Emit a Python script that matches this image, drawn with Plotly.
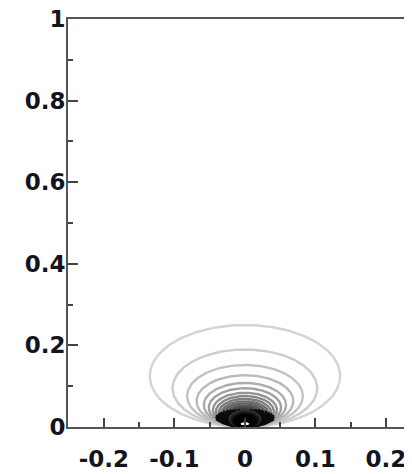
import numpy as np
import plotly.graph_objects as go

# Contour levels: top height of each closed contour (y units)
contour_tops = [0.25, 0.19, 0.152, 0.127, 0.108, 0.095, 0.084, 0.076, 0.069, 0.063,
                0.058, 0.053, 0.049, 0.046, 0.043, 0.040, 0.037, 0.035, 0.033, 0.031,
                0.029, 0.027, 0.025, 0.023, 0.021, 0.019, 0.017, 0.015]
# grey level (0=black, 255=white) for each contour
contour_greys = [212, 205, 195, 185, 172, 160, 148, 136, 124, 112,
                 100, 90, 80, 70, 60, 50, 40, 30, 20, 12,
                 6, 0, 0, 0, 0, 0, 0, 0]
width_ratio = 1.08        # half-width / radius of each contour
core_height_center = 0.042  # height of the dark core at x = 0
core_height_edge = 0.016    # height of the dark core at its edge
core_max_top = 0.1          # contours smaller than this join the dark core

x_tick_vals = [-0.2, -0.1, 0, 0.1, 0.2]
x_tick_labels = ["-0.2", "-0.1", "0", "0.1", "0.2"]
y_tick_vals = [0, 0.2, 0.4, 0.6, 0.8, 1]
y_tick_labels = ["0", "0.2", "0.4", "0.6", "0.8", "1"]

fig = go.Figure()
for top, g in zip(contour_tops, contour_greys):
    r = top / 2
    tc = 0.0
    if top <= core_max_top:
        f = np.clip((top - 0.055) / (core_max_top - 0.055), 0, 1)
        ch = core_height_center + f * (core_height_edge - core_height_center)
        if top > ch:
            tc = np.arccos(1 - ch / r)
    parts = [(np.linspace(tc, 2 * np.pi - tc, 200), g)]
    if tc > 0:
        parts.append((np.linspace(-tc, tc, 60), 10))
    for t, col in parts:
        xs = width_ratio * r * np.sin(t)
        ys = r - r * np.cos(t)
        fig.add_trace(go.Scatter(
            x=xs, y=ys, mode="lines",
            line=dict(color=f"rgb({col},{col},{col})", width=2.4),
            hoverinfo="skip", showlegend=False))

tickfont = dict(family="DejaVu Sans, sans-serif", size=23, color="#141420", weight="bold")
fig.update_layout(
    width=404, height=466,
    margin=dict(l=60, r=0, t=11, b=47),
    paper_bgcolor="white", plot_bgcolor="white",
    showlegend=False,
    xaxis=dict(range=[-0.251, 0.237], showgrid=False, zeroline=False, automargin=False,
               showline=True, linecolor="#555", linewidth=2, mirror=True,
               ticks="inside", ticklen=9, tickwidth=2, tickcolor="#444",
               tickvals=x_tick_vals, ticktext=x_tick_labels,
               tickfont=tickfont, ticklabelstandoff=10, ticklabeloverflow="allow",
               minor=dict(ticks="inside", ticklen=5, tickwidth=2, tickcolor="#444",
                          dtick=0.1, tick0=0.05, showgrid=False)),
    yaxis=dict(range=[0, 1], showgrid=False, zeroline=False, automargin=False,
               showline=True, linecolor="#555", linewidth=2, mirror=False,
               ticks="inside", ticklen=10, tickwidth=2, tickcolor="#444",
               tickvals=y_tick_vals, ticktext=y_tick_labels,
               tickfont=tickfont, ticklabelstandoff=-4, ticklabeloverflow="allow",
               minor=dict(ticks="inside", ticklen=5, tickwidth=2, tickcolor="#444",
                          dtick=0.2, tick0=0.1, showgrid=False)),
)
fig.write_html("out.html")
